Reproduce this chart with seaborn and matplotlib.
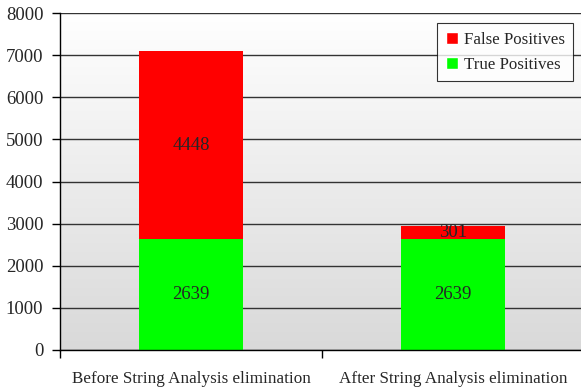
import numpy as np
import pandas as pd
import matplotlib
matplotlib.use("Agg")
import matplotlib.pyplot as plt
import seaborn as sns
from matplotlib.patches import Patch

categories = ["Before String Analysis elimination", "After String Analysis elimination"]
true_pos = [2639, 2639]
false_pos = [4448, 301]
totals = [t + f for t, f in zip(true_pos, false_pos)]

df = pd.DataFrame({"cat": categories, "tp": true_pos, "fp": false_pos, "total": totals})

sns.set_style("white")
plt.rcParams["font.family"] = ["Liberation Serif", "DejaVu Serif"]

fig = plt.figure(figsize=(5.81, 3.90), dpi=100)
ax = fig.add_axes([60 / 581, 40 / 390, 524 / 581, 337 / 390])

# gradient background
grad = np.linspace(1, 0, 256).reshape(-1, 1)
ax.imshow(grad, cmap=matplotlib.colors.LinearSegmentedColormap.from_list("g", ["#d9d9d9", "#ffffff"]),
          extent=[0, 1, 0, 1], transform=ax.transAxes, aspect="auto", zorder=0)

sns.barplot(data=df, x="cat", y="total", color="#ff0000", width=0.4, saturation=1,
            linewidth=0, ax=ax, zorder=3)
sns.barplot(data=df, x="cat", y="tp", color="#00ff00", width=0.4, saturation=1,
            linewidth=0, ax=ax, zorder=3)

for i in range(len(categories)):
    ax.text(i, true_pos[i] / 2, str(true_pos[i]), ha="center", va="center", fontsize=13.5, zorder=5)
    ax.text(i, true_pos[i] + false_pos[i] / 2, str(false_pos[i]), ha="center", va="center",
            fontsize=13.5, zorder=5)

ax.set_xlim(-0.5, 1.5)
ax.set_ylim(0, 8000)
ax.set_yticks(range(0, 8001, 1000))
ax.yaxis.grid(True, color="#333333", linewidth=1)
ax.set_axisbelow(False)
for l in ax.get_ygridlines():
    l.set_zorder(1)
ax.set_xlabel("")
ax.set_ylabel("")

ax.set_xticks([0, 1])
ax.set_xticks([-0.5, 0.5, 1.5], minor=True)
ax.tick_params(axis="x", which="major", length=0, pad=15, labelsize=12.3)
ax.tick_params(axis="x", which="minor", length=6, width=1, color="black", direction="out")
ax.tick_params(axis="y", length=6, width=1, color="black", direction="out", pad=6, labelsize=13.5)
ax.yaxis.set_ticks_position("left")
ax.xaxis.set_ticks_position("bottom")

for side in ["top", "right"]:
    ax.spines[side].set_visible(False)
for side in ["left", "bottom"]:
    ax.spines[side].set_color("black")
    ax.spines[side].set_linewidth(1)
    ax.spines[side].set_zorder(4)

handles = [Patch(facecolor="#ff0000", label="False Positives"),
           Patch(facecolor="#00ff00", label="True Positives")]
leg = ax.legend(handles=handles, loc="upper right", bbox_to_anchor=(0.979, 0.970),
                fontsize=12.2, frameon=True, fancybox=False, edgecolor="black",
                handlelength=0.7, handleheight=0.7, handletextpad=0.35, borderpad=0.5,
                labelspacing=0.55, borderaxespad=0)
leg.get_frame().set_linewidth(0.8)
leg.set_zorder(6)

fig.savefig("out.png", dpi=100)
